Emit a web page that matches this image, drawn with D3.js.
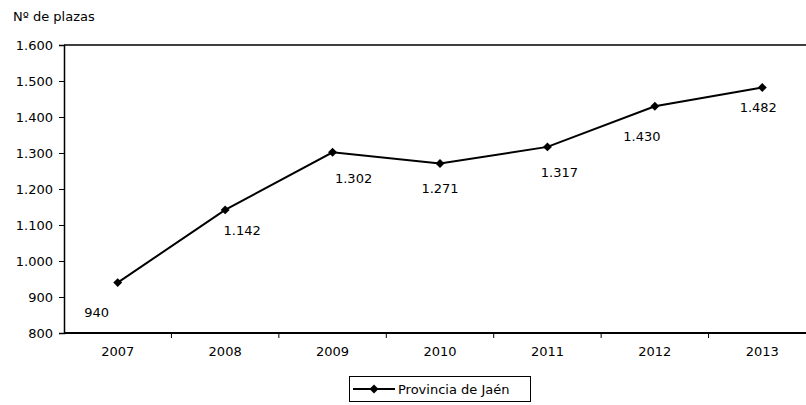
<!DOCTYPE html>
<html>
<head>
<meta charset="utf-8">
<script src="https://cdn.jsdelivr.net/npm/d3@7"></script>
<style>
  html, body { margin: 0; padding: 0; background: #fff; }
  svg { display: block; font-family: "DejaVu Sans", Verdana, sans-serif; }
</style>
</head>
<body>
<svg id="chart" width="806" height="405"></svg>
<script>
// ---- data ----
const years = ["2007", "2008", "2009", "2010", "2011", "2012", "2013"];
const plazas = [940, 1142, 1302, 1271, 1317, 1430, 1482];
const yTicks = [800, 900, 1000, 1100, 1200, 1300, 1400, 1500, 1600];
const seriesName = "Provincia de Jaén";
const yTitle = "Nº de plazas";

// ---- layout (label nudges, px) ----
const labelOffset = [[-21, 34], [17, 25], [21, 31], [0, 30], [12, 30], [-13, 35], [-4, 25]];

(function () {
const svg = d3.select("#chart");
const pLeft = 64, pRight = 816, pTop = 45, pBottom = 333;

const x = d3.scaleBand().domain(years).range([pLeft, pRight]).padding(0);
const y = d3.scaleLinear().domain([800, 1600]).range([pBottom, pTop]);

const es = d3.formatLocale({decimal: ",", thousands: ".", grouping: [3], currency: ["", " €"]});
const fmt = es.format(",d");

// y title
svg.append("text").attr("x", 13).attr("y", 21)
  .attr("font-size", 13).attr("fill", "#000").text(yTitle);

// top border
svg.append("line").attr("x1", pLeft).attr("x2", pRight).attr("y1", pTop).attr("y2", pTop)
  .attr("stroke", "#000").attr("stroke-width", 1.5);

// y axis
const yAxis = svg.append("g").attr("transform", `translate(${pLeft},0)`)
  .call(d3.axisLeft(y).tickValues(yTicks).tickSize(5).tickPadding(6).tickFormat(fmt));
yAxis.select(".domain").attr("stroke", "#000").attr("stroke-width", 1.5);
yAxis.selectAll(".tick line").attr("stroke", "#000");
yAxis.selectAll(".tick text").attr("font-size", 13).attr("fill", "#000")
  .attr("font-family", "DejaVu Sans, Verdana, sans-serif");

// x axis (labels centred on categories)
const xAxis = svg.append("g").attr("transform", `translate(0,${pBottom})`)
  .call(d3.axisBottom(x).tickSize(0).tickPadding(14));
xAxis.select(".domain").remove();
xAxis.selectAll(".tick text").attr("font-size", 13).attr("fill", "#000")
  .attr("font-family", "DejaVu Sans, Verdana, sans-serif");

// boundary ticks
svg.append("g").selectAll("line").data(years.slice(1)).join("line")
  .attr("x1", d => x(d)).attr("x2", d => x(d))
  .attr("y1", pBottom).attr("y2", pBottom + 5)
  .attr("stroke", "#000").attr("stroke-width", 1);
svg.append("line").attr("x1", pLeft).attr("x2", pRight).attr("y1", pBottom).attr("y2", pBottom)
  .attr("stroke", "#000").attr("stroke-width", 2);

// line
const cx = (d, i) => x(years[i]) + x.bandwidth() / 2;
const line = d3.line().x((d, i) => cx(d, i)).y(d => y(d));
svg.append("path").datum(plazas).attr("d", line)
  .attr("fill", "none").attr("stroke", "#000").attr("stroke-width", 2);

// markers
const diamond = d3.symbol().type(d3.symbolSquare).size(40);
svg.append("g").selectAll("path").data(plazas).join("path")
  .attr("d", diamond)
  .attr("transform", (d, i) => `translate(${cx(d, i)},${y(d)}) rotate(45)`)
  .attr("fill", "#000");

// data labels
svg.append("g").selectAll("text").data(plazas).join("text")
  .attr("x", (d, i) => cx(d, i) + labelOffset[i][0])
  .attr("y", (d, i) => y(d) + labelOffset[i][1])
  .attr("text-anchor", "middle").attr("font-size", 13).attr("fill", "#000")
  .text(d => fmt(d));

// legend
const lg = svg.append("g");
lg.append("rect").attr("x", 349.5).attr("y", 376.5).attr("width", 181).attr("height", 25)
  .attr("fill", "#fff").attr("stroke", "#000").attr("stroke-width", 1);
lg.append("line").attr("x1", 353).attr("x2", 395).attr("y1", 389).attr("y2", 389)
  .attr("stroke", "#000").attr("stroke-width", 2);
lg.append("path").attr("d", diamond).attr("transform", "translate(374,389) rotate(45)").attr("fill", "#000");
lg.append("text").attr("x", 398).attr("y", 394).attr("font-size", 13).attr("fill", "#000").text(seriesName);
})();
</script>
</body>
</html>
